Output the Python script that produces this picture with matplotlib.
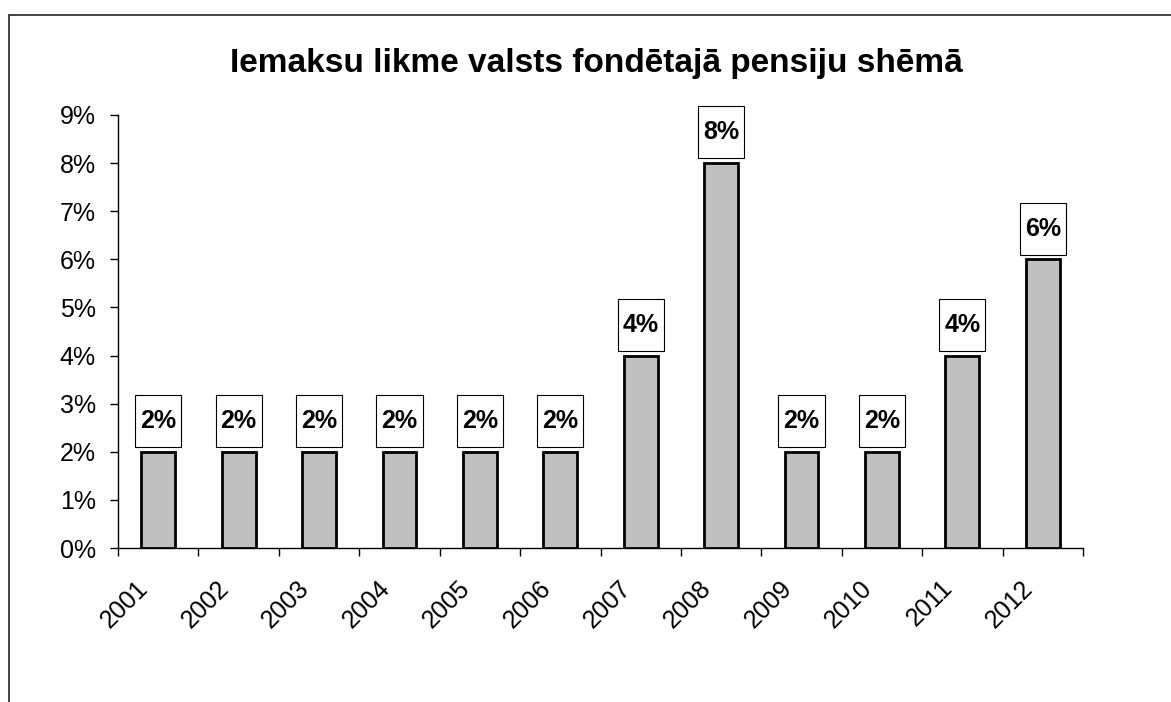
import matplotlib
matplotlib.use("Agg")
import matplotlib.pyplot as plt
from matplotlib.patches import Rectangle
from matplotlib.ticker import FuncFormatter, MultipleLocator
from matplotlib.transforms import ScaledTranslation

years = ["2001", "2002", "2003", "2004", "2005", "2006",
         "2007", "2008", "2009", "2010", "2011", "2012"]
rates = [2, 2, 2, 2, 2, 2, 4, 8, 2, 2, 4, 6]
labels = ["2%", "2%", "2%", "2%", "2%", "2%", "4%", "8%", "2%", "2%", "4%", "6%"]
title = "Iemaksu likme valsts fondētajā pensiju shēmā"

plt.rcParams['font.family'] = ['Liberation Sans', 'DejaVu Sans']

W, H = 1171, 702
fig = plt.figure(figsize=(W / 100, H / 100), dpi=100)
fig.patches.append(Rectangle((9 / W, -0.1), 1.2, 1 - 15 / H + 0.1,
                             transform=fig.transFigure, fill=False,
                             edgecolor="#222222", linewidth=1.2))

ax = fig.add_axes([118 / W, 1 - 548 / H, (1083 - 118) / W, (548 - 115) / H])
x = list(range(len(years)))
ax.bar(x, rates, width=0.42, color="#C0C0C0", edgecolor="black", linewidth=2, zorder=2)

ax.set_xlim(-0.5, len(years) - 0.5)
ax.set_ylim(0, 9)
ax.yaxis.set_major_locator(MultipleLocator(1))
ax.yaxis.set_major_formatter(FuncFormatter(lambda v, p: f"{int(round(v))}%"))
ax.set_xticks([i - 0.5 for i in range(len(years) + 1)], minor=False)
ax.set_xticklabels([""] * (len(years) + 1))
ax.set_xticks(x, minor=True)
ax.set_xticklabels(years, minor=True, rotation=45, ha="right", va="top",
                   rotation_mode="anchor", fontsize=18)
ax.tick_params(axis="x", which="minor", length=0, pad=20)
ax.tick_params(axis="x", which="major", length=6, width=1)
ax.tick_params(axis="y", length=6, width=1, labelsize=18, pad=10)
shift = ScaledTranslation(-22 / 100, 0, fig.dpi_scale_trans)
for lab in ax.get_xticklabels(minor=True):
    lab.set_transform(lab.get_transform() + shift)
for s in ["top", "right"]:
    ax.spines[s].set_visible(False)
for s in ["left", "bottom"]:
    ax.spines[s].set_linewidth(1)

bw, bh, gap = 0.575, 1.08, 0.1
for xi, v, lab in zip(x, rates, labels):
    ax.add_patch(Rectangle((xi - bw / 2, v + gap), bw, bh, facecolor="white",
                           edgecolor="black", linewidth=0.8, zorder=3, clip_on=False))
    ax.text(xi, v + gap + bh / 2, lab, ha="center", va="center", fontsize=18,
            fontweight="bold", zorder=4)

fig.text(596 / W, 1 - 72 / H, title, ha="center", va="baseline",
         fontsize=24, fontweight="bold")

fig.savefig("out.png", dpi=100)
